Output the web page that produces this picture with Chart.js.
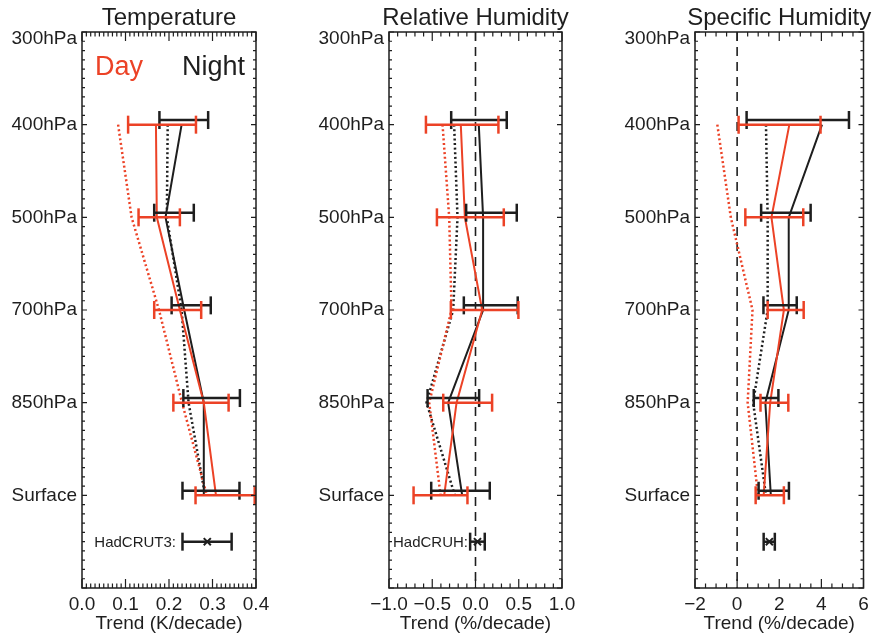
<!DOCTYPE html>
<html>
<head>
<meta charset="utf-8">
<script src="https://cdn.jsdelivr.net/npm/chart.js@4.4.1/dist/chart.umd.min.js"></script>
<style>
  body { margin: 0; background: #fff; }
  #wrap { position: relative; width: 875px; height: 635px; }
  canvas { position: absolute; left: 0; top: 0; }
</style>
</head>
<body>
<div id="wrap">
  <canvas id="cT" width="875" height="635"></canvas>
  <canvas id="cRH" width="875" height="635"></canvas>
  <canvas id="cSH" width="875" height="635"></canvas>
</div>
<script>
// niveles de presion (indice en el eje y, 0 = arriba)
const levels = ['300hPa', '400hPa', '500hPa', '700hPa', '850hPa', 'Surface'];
const levelIdx = [1, 2, 3, 4, 5];   // 400hPa ... Surface
const obsLevel = 5.5;

// Temperature (K/decade)
const tDay = [0.170, 0.172, 0.225, 0.280, 0.308];
const tDayLo = [0.106, 0.130, 0.166, 0.210, 0.261];
const tDayHi = [0.262, 0.225, 0.274, 0.337, 0.397];
const tNight = [0.229, 0.192, 0.235, 0.280, 0.280];
const tNightLo = [0.178, 0.166, 0.206, 0.233, 0.231];
const tNightHi = [0.290, 0.257, 0.296, 0.363, 0.362];
const tModelDay = [0.083, 0.114, 0.177, 0.230, 0.287];
const tModelNight = [0.197, 0.195, 0.229, 0.245, 0.283];
const tObs = [0.288, 0.231, 0.344];   // trend, lo, hi

// Relative humidity (%/decade)
const rhDay = [-0.170, -0.123, 0.077, -0.219, -0.362];
const rhDayLo = [-0.573, -0.446, -0.285, -0.373, -0.716];
const rhDayHi = [0.265, 0.327, 0.496, 0.192, -0.093];
const rhNight = [0.038, 0.088, 0.088, -0.316, -0.154];
const rhNightLo = [-0.281, -0.108, -0.135, -0.554, -0.512];
const rhNightHi = [0.361, 0.477, 0.488, 0.042, 0.165];
const rhModelDay = [-0.381, -0.304, -0.277, -0.535, -0.404];
const rhModelNight = [-0.247, -0.208, -0.258, -0.566, -0.239];
const rhObs = [0.023, -0.062, 0.107];

// Specific humidity (%/decade)
const shDay = [2.48, 1.63, 2.22, 1.57, 1.26];
const shDayLo = [0.07, 0.39, 1.45, 1.11, 0.88];
const shDayHi = [3.96, 3.14, 3.16, 2.43, 2.22];
const shNight = [4.03, 2.45, 2.45, 1.34, 1.60];
const shNightLo = [0.45, 1.14, 1.25, 0.79, 1.02];
const shNightHi = [5.31, 3.49, 2.83, 1.96, 2.46];
const shModelDay = [-0.94, -0.30, 0.73, 0.50, 0.99];
const shModelNight = [1.37, 1.45, 1.45, 0.76, 1.37];
const shObs = [1.53, 1.26, 1.79];

const RED = 'rgb(236, 66, 38)';
const BLACK = '#1e1e1e';
const FONT = '"Liberation Sans", Arial, sans-serif';
const NIGHT_OFFSET = -0.05;  // las barras de noche van un poco mas arriba

function errBar(lo, hi, y, color) {
    return {
        data: [{ x: lo, y: y }, { x: hi, y: y }],
        showLine: true,
        borderColor: color,
        borderWidth: 2.5,
        pointStyle: 'line',
        pointRotation: 90,
        pointRadius: 9,
        pointBorderColor: color,
        pointBackgroundColor: color,
        pointBorderWidth: 2.5
    };
}

function profile(vals, color, dotted) {
    return {
        data: vals.map((v, i) => ({ x: v, y: levelIdx[i] })),
        showLine: true,
        borderColor: color,
        borderWidth: dotted ? 2.5 : 2,
        borderDash: dotted ? [2, 2.6] : [],
        pointRadius: 0,
        tension: 0
    };
}

function buildDatasets(p) {
    const ds = [];
    levelIdx.forEach((y, i) => ds.push(errBar(p.dayLo[i], p.dayHi[i], y, RED)));
    levelIdx.forEach((y, i) => ds.push(errBar(p.nightLo[i], p.nightHi[i], y + NIGHT_OFFSET, BLACK)));
    ds.push(errBar(p.obs[1], p.obs[2], obsLevel, BLACK));
    ds.push({
        data: [{ x: p.obs[0], y: obsLevel }],
        pointStyle: 'crossRot', pointRadius: 5,
        pointBorderColor: BLACK, pointBorderWidth: 2
    });
    ds.push(profile(p.day, RED, false));
    ds.push(profile(p.night, BLACK, false));
    ds.push(profile(p.modelDay, RED, true));
    ds.push(profile(p.modelNight, BLACK, true));
    if (p.zeroLine) {
        ds.push({
            data: [{ x: 0, y: 0 }, { x: 0, y: 6 }],
            showLine: true, borderColor: BLACK, borderWidth: 1.6,
            borderDash: [9, 6], pointRadius: 0
        });
    }
    return ds;
}

// marco y marcas hacia dentro, titulo y textos sueltos
const framePlugin = {
    id: 'frame',
    afterDraw(chart, args, opts) {
        const { ctx, chartArea: a, scales } = chart;
        const xs = scales.x, ys = scales.y;
        ctx.save();
        ctx.strokeStyle = BLACK;
        ctx.lineWidth = 1.5;
        ctx.strokeRect(a.left, a.top, a.right - a.left, a.bottom - a.top);
        ctx.lineWidth = 1.2;
        ctx.beginPath();
        const nx = Math.round((xs.max - xs.min) / opts.minor);
        for (let i = 0; i <= nx; i++) {
            const v = xs.min + i * opts.minor;
            const r = v / opts.major;
            const major = Math.abs(r - Math.round(r)) < 1e-6;
            const len = major ? 9 : 4.5;
            const px = xs.getPixelForValue(v);
            ctx.moveTo(px, a.bottom); ctx.lineTo(px, a.bottom - len);
            ctx.moveTo(px, a.top); ctx.lineTo(px, a.top + len);
        }
        for (let i = 0; i <= 60; i++) {
            const len = i % 10 === 0 ? 5 : 3;
            const py = ys.getPixelForValue(i / 10);
            ctx.moveTo(a.left, py); ctx.lineTo(a.left + len, py);
            ctx.moveTo(a.right, py); ctx.lineTo(a.right - len, py);
        }
        ctx.stroke();

        ctx.fillStyle = BLACK;
        ctx.textBaseline = 'middle';
        ctx.textAlign = 'center';
        ctx.font = '24px ' + FONT;
        ctx.fillText(opts.title, (a.left + a.right) / 2, 18);

        // la etiqueta de arriba va algo mas baja que su marca
        ctx.font = '19px ' + FONT;
        ctx.textAlign = 'right';
        ctx.fillText(levels[0], a.left - 5, ys.getPixelForValue(0) + 7);

        (opts.texts || []).forEach(t => {
            ctx.font = t.size + 'px ' + FONT;
            ctx.fillStyle = t.color || BLACK;
            ctx.textAlign = t.align;
            ctx.fillText(t.text, t.x, t.y);
        });
        ctx.restore();
    }
};

function makeChart(id, p) {
    const yWidth = 80;
    return new Chart(document.getElementById(id).getContext('2d'), {
        type: 'scatter',
        data: { datasets: buildDatasets(p) },
        options: {
            responsive: false,
            animation: false,
            events: [],
            layout: { padding: { left: p.left - yWidth, right: 875 - p.right, top: 32, bottom: 0 } },
            plugins: {
                legend: { display: false },
                tooltip: { enabled: false },
                frame: { title: p.title, minor: p.minor, major: p.major, texts: p.texts }
            },
            scales: {
                x: {
                    type: 'linear', min: p.xMin, max: p.xMax,
                    grid: { display: false, drawTicks: false },
                    border: { display: false },
                    ticks: {
                        stepSize: p.step, autoSkip: false, maxRotation: 0, padding: 5,
                        color: BLACK, font: { family: FONT, size: 19 },
                        callback: p.fmt
                    },
                    title: {
                        display: true, text: p.xTitle, color: BLACK,
                        font: { family: FONT, size: 19 }, padding: 0
                    },
                    afterFit: s => { s.height = 47; s.paddingLeft = 0; s.paddingRight = 0; }
                },
                y: {
                    type: 'linear', min: 0, max: 6, reverse: true,
                    grid: { display: false, drawTicks: false },
                    border: { display: false },
                    ticks: {
                        stepSize: 1, autoSkip: false, padding: 5,
                        color: BLACK, font: { family: FONT, size: 19 },
                        callback: v => {
                            const i = Math.round(v);
                            return i === 0 ? '' : (levels[i] || '');
                        }
                    },
                    afterFit: s => { s.width = yWidth; s.paddingTop = 0; s.paddingBottom = 0; }
                }
            }
        },
        plugins: [framePlugin]
    });
}

const minus = s => s.replace('-', '\u2212');

makeChart('cT', {
    title: 'Temperature', xTitle: 'Trend (K/decade)',
    left: 82, right: 256, xMin: 0, xMax: 0.4, step: 0.1, minor: 0.01, major: 0.1,
    fmt: v => Number(v).toFixed(1),
    day: tDay, dayLo: tDayLo, dayHi: tDayHi,
    night: tNight, nightLo: tNightLo, nightHi: tNightHi,
    modelDay: tModelDay, modelNight: tModelNight, obs: tObs, zeroLine: false,
    texts: [
        { text: 'Day', x: 95, y: 68, size: 27, color: RED, align: 'left' },
        { text: 'Night', x: 245, y: 68, size: 27, color: BLACK, align: 'right' },
        { text: 'HadCRUT3:', x: 176, y: 543, size: 15, color: BLACK, align: 'right' }
    ]
});

makeChart('cRH', {
    title: 'Relative Humidity', xTitle: 'Trend (%/decade)',
    left: 389, right: 562, xMin: -1, xMax: 1, step: 0.5, minor: 0.1, major: 0.5,
    fmt: v => minus(Number(v).toFixed(1)),
    day: rhDay, dayLo: rhDayLo, dayHi: rhDayHi,
    night: rhNight, nightLo: rhNightLo, nightHi: rhNightHi,
    modelDay: rhModelDay, modelNight: rhModelNight, obs: rhObs, zeroLine: true,
    texts: [
        { text: 'HadCRUH:', x: 468, y: 543, size: 15, color: BLACK, align: 'right' }
    ]
});

makeChart('cSH', {
    title: 'Specific Humidity', xTitle: 'Trend (%/decade)',
    left: 695, right: 869, xMin: -2, xMax: 6, step: 2, minor: 0.5, major: 2,
    fmt: v => minus(String(Math.round(v))),
    day: shDay, dayLo: shDayLo, dayHi: shDayHi,
    night: shNight, nightLo: shNightLo, nightHi: shNightHi,
    modelDay: shModelDay, modelNight: shModelNight, obs: shObs, zeroLine: true,
    texts: []
});
</script>
</body>
</html>
